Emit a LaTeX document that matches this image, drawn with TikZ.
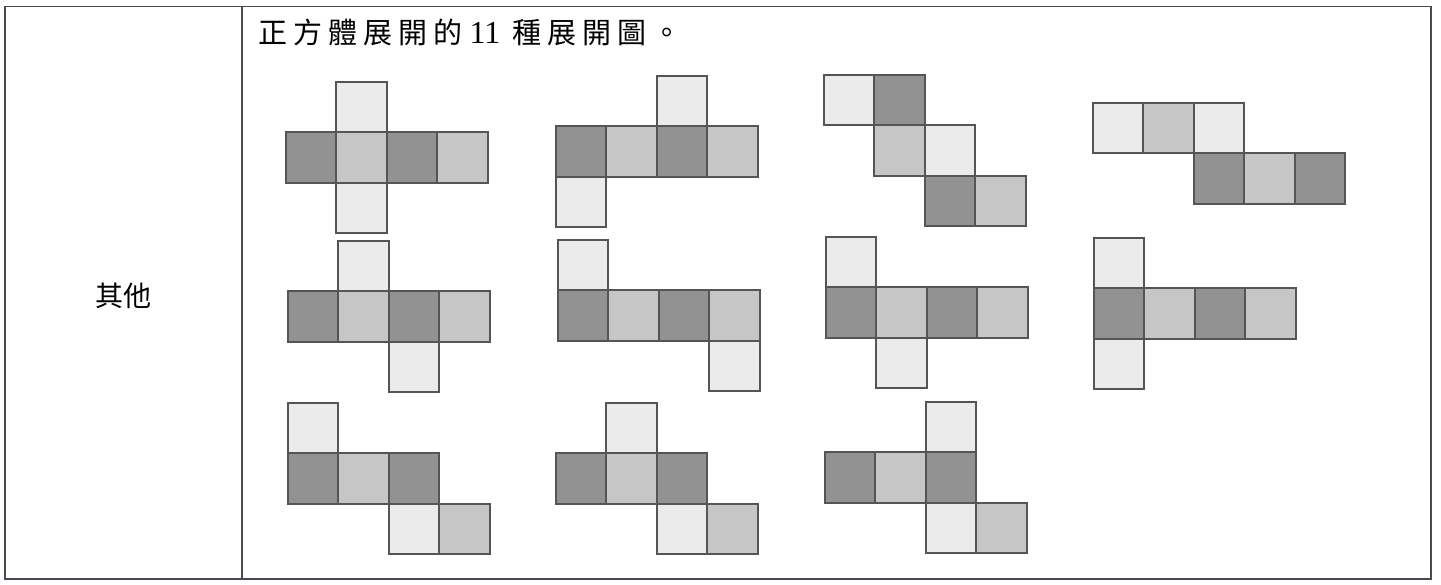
\documentclass[tikz,border=0pt]{standalone}
\usepackage{fontspec}
\setmainfont{Noto Sans CJK TC}
\newfontfamily\cjktitle[LetterSpace=21]{Noto Sans CJK TC}
\newfontfamily\numfont{Liberation Serif}
\definecolor{lightc}{HTML}{EBEBEB}
\definecolor{midc}{HTML}{C6C6C6}
\definecolor{darkc}{HTML}{929292}
\definecolor{edgec}{HTML}{555555}
\definecolor{tablec}{HTML}{4A4A55}
\tikzset{
  L/.style={fill=lightc,draw=edgec,line width=2pt},
  M/.style={fill=midc,draw=edgec,line width=2pt},
  D/.style={fill=darkc,draw=edgec,line width=2pt},
  tableline/.style={draw=tablec,line width=1.4pt},
}
\newcommand\netdraw[3]{%
  \foreach \c/\r/\s in {#3} {
    \path[\s] ({#1+\c*50.4},{#2+\r*50.4}) rectangle ++(50.4,50.4);
  }%
}
\begin{document}
\begin{tikzpicture}[x=1pt,y=-1pt]
\useasboundingbox (0,0) rectangle (1441,584);
% table
\draw[tableline] (5,6.5) rectangle (1431,579);
\draw[tableline] (242,6.5) -- (242,579);
\node[font=\fontsize{28}{32}\selectfont] (other) at (123.5,296) {其他};
\node[anchor=west,inner sep=0pt,font=\fontsize{29}{33}\selectfont\cjktitle] (title) at (258,32)
  {正方體展開的\hspace{7pt}{\numfont\fontsize{32}{34}\selectfont 11}\hspace{12pt}種展開圖。};
% row 1
\netdraw{286}{82}{1/0/L,0/1/D,1/1/M,2/1/D,3/1/M,1/2/L}
\netdraw{556}{76}{2/0/L,0/1/D,1/1/M,2/1/D,3/1/M,0/2/L}
\netdraw{824}{75}{0/0/L,1/0/D,1/1/M,2/1/L,2/2/D,3/2/M}
\netdraw{1093}{103}{0/0/L,1/0/M,2/0/L,2/1/D,3/1/M,4/1/D}
% row 2
\netdraw{288}{241}{1/0/L,0/1/D,1/1/M,2/1/D,3/1/M,2/2/L}
\netdraw{558}{240}{0/0/L,0/1/D,1/1/M,2/1/D,3/1/M,3/2/L}
\netdraw{826}{237}{0/0/L,0/1/D,1/1/M,2/1/D,3/1/M,1/2/L}
\netdraw{1094}{238}{0/0/L,0/1/D,1/1/M,2/1/D,3/1/M,0/2/L}
% row 3
\netdraw{288}{403}{0/0/L,0/1/D,1/1/M,2/1/D,2/2/L,3/2/M}
\netdraw{556}{403}{1/0/L,0/1/D,1/1/M,2/1/D,2/2/L,3/2/M}
\netdraw{825}{402}{2/0/L,0/1/D,1/1/M,2/1/D,2/2/L,3/2/M}
\end{tikzpicture}
\end{document}
